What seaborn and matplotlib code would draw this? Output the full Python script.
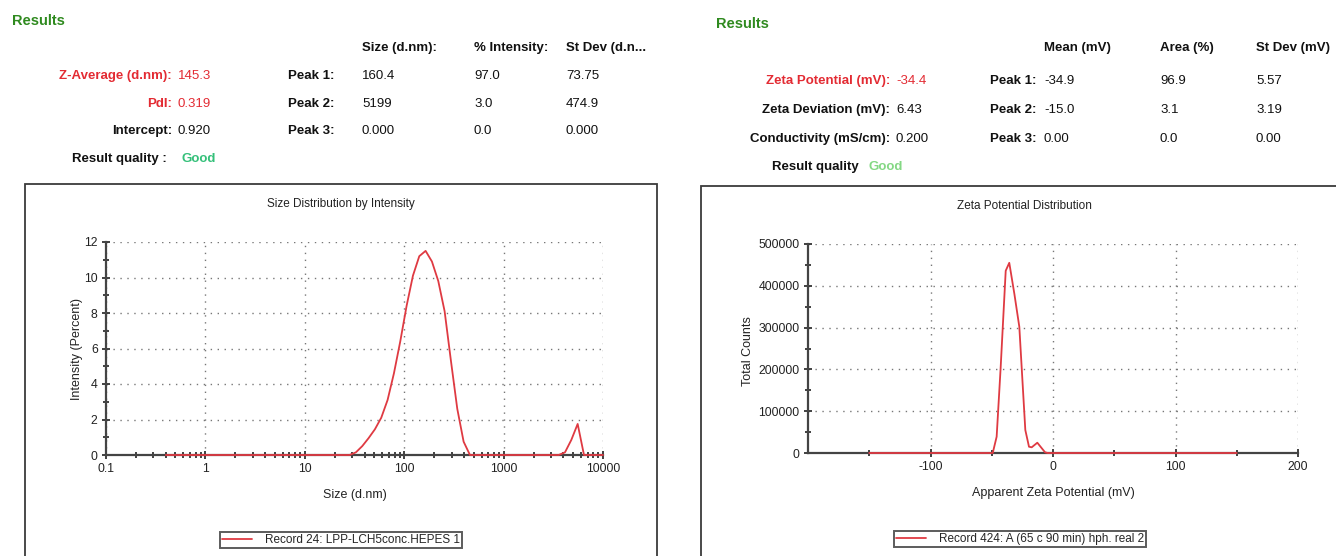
import matplotlib
matplotlib.use("Agg")
import matplotlib.pyplot as plt
from matplotlib.patches import Rectangle
from matplotlib.ticker import FixedLocator, NullFormatter, LogLocator
import numpy as np
import pandas as pd
import seaborn as sns

# ---- size distribution (DLS, intensity-weighted) ----
size_nm = [0.4, 0.4632, 0.5365, 0.6213, 0.7195, 0.8332, 0.9649, 1.117, 1.294, 1.499,
           1.736, 2.01, 2.328, 2.696, 3.122, 3.615, 4.187, 4.849, 5.615, 6.503,
           7.531, 8.721, 10.1, 11.7, 13.54, 15.69, 18.17, 21.04, 24.36, 28.21,
           32.67, 37.84, 43.82, 50.75, 58.77, 68.06, 78.82, 91.28, 105.7, 122.4,
           141.8, 164.2, 190.1, 220.2, 255.0, 295.3, 342.0, 396.1, 458.7, 531.2,
           615.1, 712.4, 825.0, 955.4, 1106, 1281, 1484, 1718, 1990, 2305,
           2669, 3091, 3580, 4145, 4801, 5560, 6439, 7456, 8635, 10000]
intensity_pct = [0, 0, 0, 0, 0, 0, 0, 0, 0, 0,
                 0, 0, 0, 0, 0, 0, 0, 0, 0, 0,
                 0, 0, 0, 0, 0, 0, 0, 0, 0, 0,
                 0.15, 0.5, 0.95, 1.45, 2.1, 3.1, 4.6, 6.4, 8.4, 10.1,
                 11.2, 11.5, 10.9, 9.8, 8.1, 5.3, 2.6, 0.75, 0, 0,
                 0, 0, 0, 0, 0, 0, 0, 0, 0, 0,
                 0, 0, 0, 0.15, 0.85, 1.75, 0, 0, 0, 0]

# ---- zeta potential distribution ----
zeta_mv = [-150, -49.2, -46.0, -42.7, -38.6, -35.7, -31.5, -27.5, -22.6, -19.6,
           -17.4, -12.8, -6.5, -4.3, 150]
total_counts = [0, 0, 39000, 206000, 436000, 455000, 380000, 302000, 55000, 15000,
                13600, 24600, 1700, 0, 0]

size_legend = "Record 24: LPP-LCH5conc.HEPES 1"
zeta_legend = "Record 424: A (65 c 90 min) hph. real 2"

# ---- summary tables ----
size_left_labels = ["Z-Average (d.nm):", "PdI:", "Intercept:"]
size_left_values = ["145.3", "0.319", "0.920"]
size_cols = ["Size (d.nm):", "% Intensity:", "St Dev (d.n..."]
size_peaks = ["Peak 1:", "Peak 2:", "Peak 3:"]
size_table = [["160.4", "97.0", "73.75"],
              ["5199", "3.0", "474.9"],
              ["0.000", "0.0", "0.000"]]

zeta_left_labels = ["Zeta Potential (mV):", "Zeta Deviation (mV):", "Conductivity (mS/cm):"]
zeta_left_values = ["-34.4", "6.43", "0.200"]
zeta_cols = ["Mean (mV)", "Area (%)", "St Dev (mV)"]
zeta_peaks = ["Peak 1:", "Peak 2:", "Peak 3:"]
zeta_table = [["-34.9", "96.9", "5.57"],
              ["-15.0", "3.1", "3.19"],
              ["0.00", "0.0", "0.00"]]

sns.set_theme(style="white")
plt.rcParams["font.family"] = ["Liberation Sans Narrow", "Liberation Sans", "DejaVu Sans"]
plt.rcParams["axes.unicode_minus"] = False

W, H = 1336, 556
fig = plt.figure(figsize=(W / 100, H / 100), dpi=100)
fig.patch.set_facecolor("white")

RED = "#e32b33"
LINE = "#df3a42"
GREEN = "#2f8a1f"
GOOD1 = "#35c07a"
GOOD2 = "#84d884"
INK = "#111111"
TICKFS = 8.8


def P(x, y):
    return x / W, 1 - y / H


def txt(x, y, s, ha="left", color=INK, bold=False, size=10):
    fig.text(*P(x, y), s, ha=ha, va="center", color=color,
             fontweight="bold" if bold else "normal", fontsize=size)


# header: size results
txt(12, 21, "Results", color=GREEN, bold=True, size=10.5)
for x, c in zip([362, 474, 566], size_cols):
    txt(x, 48, c, bold=True, size=9.5)
for i, (lab, val) in enumerate(zip(size_left_labels, size_left_values)):
    y = 76 + i * 27.5
    col = RED if i < 2 else INK
    txt(172, y, lab, ha="right", color=col, bold=True, size=9.5)
    txt(178, y, val, color=col, size=9.5)
txt(167, 159, "Result quality :", ha="right", bold=True, size=9.5)
txt(182, 159, "Good", color=GOOD1, bold=True, size=9.5)
for i, (pk, row) in enumerate(zip(size_peaks, size_table)):
    y = 76 + i * 27.5
    txt(334, y, pk, ha="right", bold=True, size=9.5)
    for x, v in zip([362, 474, 566], row):
        txt(x, y, v, size=9.5)

# header: zeta results
txt(716, 24, "Results", color=GREEN, bold=True, size=10.5)
for x, c in zip([1044, 1160, 1256], zeta_cols):
    txt(x, 48, c, bold=True, size=9.5)
for i, (lab, val) in enumerate(zip(zeta_left_labels, zeta_left_values)):
    y = 81 + i * 29
    col = RED if i == 0 else INK
    txt(890, y, lab, ha="right", color=col, bold=True, size=9.5)
    txt(896, y, val, color=col, size=9.5)
txt(859, 167, "Result quality", ha="right", bold=True, size=9.5)
txt(869, 167, "Good", color=GOOD2, bold=True, size=9.5)
for i, (pk, row) in enumerate(zip(zeta_peaks, zeta_table)):
    y = 81 + i * 29
    txt(1036, y, pk, ha="right", bold=True, size=9.5)
    for x, v in zip([1044, 1160, 1256], row):
        txt(x, y, v, size=9.5)

# report panel frames
for (x0, y0, x1) in [(25, 184, 657), (701, 186, 1340)]:
    bx, by = P(x0, H + 5)
    fig.add_artist(Rectangle((bx, by), (x1 - x0) / W, (H + 5 - y0) / H,
                             transform=fig.transFigure, fill=False,
                             edgecolor="#3a3a3a", lw=1.3))


def style_axes(ax):
    for s in ["top", "right"]:
        ax.spines[s].set_visible(False)
    for s in ["left", "bottom"]:
        ax.spines[s].set_color("#444444")
        ax.spines[s].set_linewidth(1.6)
    ax.grid(True, which="major", linestyle=(0, (1, 4)), color="#777777", lw=1.0)
    ax.grid(False, which="minor")
    ax.tick_params(which="both", bottom=True, left=True, top=False, right=False)
    ax.tick_params(which="major", direction="inout", length=6, width=1.3,
                   color="#333333", labelsize=TICKFS, labelcolor="#222222", pad=3)
    ax.tick_params(which="minor", direction="inout", length=5, width=1.3,
                   color="#333333")
    ax.set_facecolor("white")


def add_legend(ax, cx, cy):
    leg = ax.legend(loc="center", bbox_to_anchor=P(cx, cy), bbox_transform=fig.transFigure,
                    frameon=True, fancybox=False, edgecolor="#333333", fontsize=8.5,
                    handlelength=2.6, borderpad=0.15, handletextpad=1.1,
                    borderaxespad=0)
    leg.get_frame().set_linewidth(1.4)


# size distribution plot
axL = fig.add_axes([106 / W, 1 - 455 / H, 497 / W, 213 / H])
dfL = pd.DataFrame({"size": size_nm, "intensity": intensity_pct})
sns.lineplot(data=dfL, x="size", y="intensity", ax=axL, color=LINE, lw=1.3,
             label=size_legend, zorder=5, clip_on=False)
axL.set_xscale("log")
axL.set_xlim(0.1, 10000)
axL.set_ylim(0, 12)
axL.xaxis.set_major_locator(FixedLocator([0.1, 1, 10, 100, 1000, 10000]))
axL.set_xticklabels(["0.1", "1", "10", "100", "1000", "10000"])
axL.xaxis.set_minor_locator(LogLocator(base=10, subs=np.arange(2, 10)))
axL.xaxis.set_minor_formatter(NullFormatter())
axL.yaxis.set_major_locator(FixedLocator([0, 2, 4, 6, 8, 10, 12]))
axL.yaxis.set_minor_locator(FixedLocator(np.arange(1, 13, 2)))
style_axes(axL)
axL.set_xlabel("Size (d.nm)", fontsize=9, labelpad=10, color="#222222")
axL.set_ylabel("Intensity (Percent)", fontsize=9, color="#222222")
axL.yaxis.set_label_coords(-0.046, 0.5)
fig.text(*P(341, 204), "Size Distribution by Intensity", ha="center", va="center",
         fontsize=8.5, color="#222222")
add_legend(axL, 341, 540)

# zeta potential plot
axR = fig.add_axes([808 / W, 1 - 453 / H, 490 / W, 209 / H])
dfR = pd.DataFrame({"zeta": zeta_mv, "counts": total_counts})
sns.lineplot(data=dfR, x="zeta", y="counts", ax=axR, color=LINE, lw=1.3,
             label=zeta_legend, zorder=5, clip_on=False, sort=False)
axR.set_xlim(-200, 200)
axR.set_ylim(0, 500000)
axR.xaxis.set_major_locator(FixedLocator([-100, 0, 100, 200]))
axR.xaxis.set_minor_locator(FixedLocator([-150, -50, 50, 150]))
axR.yaxis.set_major_locator(FixedLocator([0, 100000, 200000, 300000, 400000, 500000]))
axR.yaxis.set_minor_locator(FixedLocator(np.arange(50000, 500000, 100000)))
axR.set_yticklabels(["0", "100000", "200000", "300000", "400000", "500000"])
style_axes(axR)
axR.set_xlabel("Apparent Zeta Potential (mV)", fontsize=9, labelpad=10, color="#222222")
axR.set_ylabel("Total Counts", fontsize=9, color="#222222")
axR.yaxis.set_label_coords(-0.11, 0.49)
fig.text(*P(1024, 206), "Zeta Potential Distribution", ha="center", va="center",
         fontsize=8.5, color="#222222")
add_legend(axR, 1020, 539)

fig.savefig("out.png", dpi=100, facecolor="white")
